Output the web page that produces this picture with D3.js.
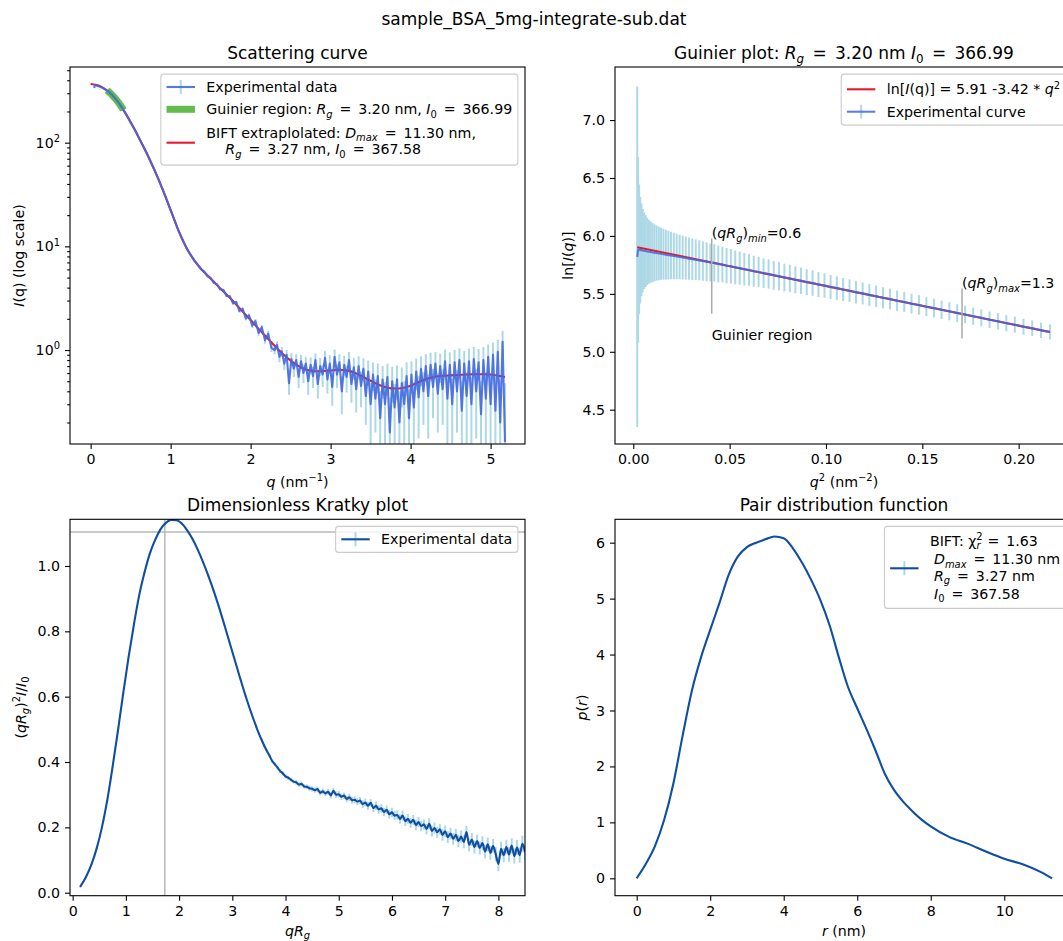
<!DOCTYPE html>
<html>
<head>
<meta charset="utf-8">
<script src="https://cdn.jsdelivr.net/npm/d3@7"></script>
<style>
body{margin:0;background:#fff;}
text{font-family:"DejaVu Sans",sans-serif;white-space:pre;}
</style>
</head>
<body>
<svg id="fig" width="1063" height="941"></svg>
<script>
// ---------- data ----------
var figTitle = "sample_BSA_5mg-integrate-sub.dat";

// low q points, shared by the scattering curve and the Guinier plot
var guinierQ = [0.045,0.050,0.055,0.060,0.065,0.070,0.075,0.080,0.085,0.090,
  0.095,0.100,0.105,0.110,0.115,0.120,0.125,0.130,0.135,0.140,
  0.145,0.150,0.155,0.160,0.165,0.170,0.175,0.180,0.185,0.190,
  0.195,0.200,0.205,0.210,0.215,0.220,0.225,0.230,0.235,0.240,
  0.245,0.250,0.255,0.260,0.265,0.270,0.275,0.280,0.285,0.290,
  0.295,0.300,0.305,0.310,0.315,0.320,0.325,0.330,0.335,0.340,
  0.345,0.350,0.355,0.360,0.365,0.370,0.375,0.380,0.385,0.390,
  0.395,0.400,0.405,0.410,0.415,0.420,0.425,0.430,0.435,0.440,
  0.445,0.450,0.455,0.460,0.465];
var guinierLnI = [5.820,5.880,5.884,5.876,5.879,5.873,5.872,5.869,5.866,5.863,
  5.861,5.857,5.855,5.852,5.848,5.846,5.842,5.838,5.834,5.831,
  5.826,5.822,5.818,5.813,5.809,5.804,5.799,5.794,5.789,5.783,
  5.777,5.771,5.767,5.758,5.753,5.743,5.738,5.728,5.722,5.712,
  5.706,5.695,5.689,5.678,5.671,5.660,5.652,5.641,5.633,5.621,
  5.613,5.601,5.593,5.580,5.572,5.559,5.550,5.537,5.527,5.514,
  5.504,5.490,5.480,5.466,5.455,5.441,5.430,5.415,5.404,5.389,
  5.377,5.362,5.350,5.334,5.322,5.306,5.293,5.277,5.264,5.247,
  5.234,5.216,5.203,5.185,5.171];
var guinierErr = [1.47,0.80,0.56,0.46,0.40,0.36,0.33,0.31,0.29,0.275,
  0.265,0.255,0.245,0.238,0.231,0.225,0.220,0.215,0.210,0.205,
  0.200,0.196,0.192,0.188,0.185,0.182,0.179,0.176,0.173,0.170,
  0.167,0.164,0.161,0.158,0.155,0.152,0.149,0.146,0.143,0.140,
  0.137,0.134,0.131,0.128,0.126,0.124,0.122,0.120,0.118,0.116,
  0.114,0.112,0.110,0.108,0.106,0.104,0.102,0.100,0.098,0.097,
  0.095,0.094,0.092,0.091,0.089,0.088,0.086,0.085,0.084,0.082,
  0.081,0.080,0.078,0.077,0.076,0.075,0.073,0.072,0.071,0.070,
  0.069,0.068,0.067,0.066,0.065];
var guinierFitQ2 = [0.00203, 0.21623];
var guinierFitLnI = [5.903, 5.170];
var guinierQmin = 0.2025, guinierQmax = 0.4135;
var guinierMarkQ2 = [0.0407, 0.1706];
var guinierMarkLo = [5.330, 5.115];
var guinierMarkHi = [5.978, 5.547];
var guinierMarkSub = ["min", "max"];
var guinierMarkVal = ["=0.6", "=1.3"];

// rest of the scattering curve
var scatterQ = [0.50,0.55,0.60,0.65,0.70,0.75,0.80,0.85,0.90,0.95,1.00,1.05,1.10,1.15,1.20,1.25,1.30,
  1.34,1.38,1.42,1.46,1.50,1.54,1.58,1.62,1.66,1.70,1.74,1.78,1.82,1.86,1.90,1.94,1.98,2.02,2.06,2.10,2.14,2.18,2.22,2.26,
  2.30,2.33,2.36,2.39,2.42,2.45,2.48,2.51,2.54,2.57,2.60,2.63,2.66,2.69,2.72,2.75,2.78,2.81,2.84,2.87,
  2.90,2.93,2.96,2.99,3.02,3.05,3.08,3.11,3.14,3.17,3.20,3.23,3.26,3.29,3.32,3.35,3.38,3.41,3.44,3.47,
  3.50,3.53,3.56,3.59,3.62,3.65,3.68,3.71,3.74,3.77,3.80,3.83,3.86,3.89,3.92,3.95,3.98,4.01,4.04,4.07,
  4.10,4.13,4.16,4.19,4.22,4.25,4.28,4.31,4.34,4.37,4.40,4.43,4.46,4.49,4.52,4.55,4.58,4.61,4.64,4.67,
  4.70,4.73,4.76,4.79,4.82,4.85,4.88,4.91,4.94,4.97,5.00,5.03,5.06,5.09,5.12,5.15,5.18];
var scatterI = [156,134,113,95,79.5,65.5,54,44,35.4,28.3,22.4,17.8,14.1,11.6,9.6,8.3,7.25,
  6.62,6.00,5.70,5.15,4.95,4.45,4.30,3.85,3.80,3.32,3.30,2.82,2.90,2.38,2.50,2.02,2.16,1.72,1.90,1.46,1.66,1.24,1.44,1.05,
  1.00,1.12,0.86,0.97,0.74,0.90,0.48,0.82,0.66,0.80,
  0.55,0.78,0.60,0.74,0.50,0.72,0.56,0.80,0.47,0.70,
  0.58,0.84,0.52,0.74,0.44,0.86,0.58,0.76,0.40,0.72,
  0.55,0.80,0.47,0.68,0.42,0.70,0.45,0.66,0.36,0.62,
  0.30,0.58,0.34,0.56,0.22,0.52,0.30,0.55,0.16,0.50,
  0.28,0.52,0.20,0.48,0.30,0.56,0.22,0.58,0.28,0.62,
  0.35,0.66,0.40,0.70,0.36,0.72,0.44,0.74,0.38,0.70,
  0.42,0.78,0.34,0.72,0.30,0.76,0.40,0.80,0.26,0.74,
  0.36,0.78,0.30,0.82,0.40,0.76,0.24,0.80,0.34,0.86,
  0.30,0.90,0.26,0.96,0.20,1.20,0.13];
var scatterErr = [1.2,1.0,0.9,0.8,0.7,0.6,0.5,0.45,0.4,0.35,0.3,0.28,0.25,0.22,0.2,0.18,0.16,
  0.08,0.08,0.08,0.08,0.08,0.08,0.08,0.09,0.09,0.09,0.09,0.09,0.09,0.09,0.09,0.09,0.09,0.09,0.09,0.09,0.09,0.09,0.09,0.09,
  0.09,0.09,0.10,0.10,0.10,0.10,0.11,0.11,0.11,0.11,
  0.12,0.12,0.12,0.12,0.13,0.13,0.13,0.13,0.13,0.14,
  0.14,0.14,0.14,0.15,0.15,0.15,0.15,0.15,0.16,0.16,
  0.16,0.16,0.16,0.16,0.17,0.17,0.17,0.17,0.17,0.17,
  0.18,0.18,0.18,0.18,0.18,0.18,0.19,0.19,0.19,0.19,
  0.19,0.19,0.20,0.20,0.20,0.20,0.20,0.20,0.21,0.21,
  0.21,0.21,0.21,0.21,0.22,0.22,0.22,0.22,0.22,0.22,
  0.23,0.23,0.23,0.23,0.23,0.24,0.24,0.24,0.24,0.24,
  0.25,0.25,0.25,0.25,0.26,0.26,0.26,0.27,0.27,0.27,
  0.28,0.28,0.29,0.30,0.31,0.33,0.35];

// BIFT extrapolated curve
var biftQ = [0.00,0.10,0.20,0.30,0.40,0.50,0.60,0.70,0.80,0.90,1.00,1.10,1.20,1.30,1.40,1.50,1.60,1.70,1.80,1.90,
  2.00,2.10,2.20,2.30,2.40,2.50,2.60,2.70,2.80,2.90,3.00,3.10,3.20,3.30,3.40,3.50,3.60,3.70,3.80,3.90,
  4.00,4.10,4.20,4.30,4.40,4.50,4.60,4.70,4.80,4.90,5.00,5.10,5.18];
var biftI = [367.6,355.5,320,272,212,158,113,79.5,54,35.4,22.4,14.1,9.6,7.25,5.85,4.9,4.08,3.43,2.86,2.35,
  1.95,1.6,1.33,1.1,0.92,0.79,0.70,0.645,0.625,0.625,0.635,0.645,0.637,0.605,0.555,0.505,0.462,0.436,0.425,0.43,
  0.452,0.49,0.527,0.553,0.565,0.57,0.575,0.58,0.585,0.585,0.58,0.565,0.55];

// dimensionless Kratky plot
var kratkyX = [0.14,0.25,0.35,0.45,0.55,0.65,0.75,0.85,0.95,1.05,1.15,1.25,1.35,1.45,1.55,1.65,1.75,
  1.85,1.95,2.05,2.15,2.25,2.35,2.45,2.55,2.65,2.75,2.85,2.95,3.05,3.15,3.25,3.35,3.45,
  3.50,3.55,3.60,3.65,3.70,3.75,3.80,3.85,3.90,3.95,
  4.00,4.05,4.10,4.15,4.20,4.25,4.30,4.35,4.40,4.45,
  4.50,4.55,4.60,4.65,4.70,4.75,4.80,4.85,4.90,4.95,
  5.00,5.05,5.10,5.15,5.20,5.25,5.30,5.35,5.40,5.45,
  5.50,5.55,5.60,5.65,5.70,5.75,5.80,5.85,5.90,5.95,
  6.00,6.05,6.10,6.15,6.20,6.25,6.30,6.35,6.40,6.45,
  6.50,6.55,6.60,6.65,6.70,6.75,6.80,6.85,6.90,6.95,
  7.00,7.05,7.10,7.15,7.20,7.25,7.30,7.35,7.40,7.45,
  7.50,7.55,7.60,7.65,7.70,7.75,7.80,7.85,7.90,7.95,
  8.00,8.05,8.10,8.15,8.20,8.25,8.30,8.35,8.40,8.45,8.50];
var kratkyY = [0.018,0.048,0.085,0.135,0.200,0.283,0.385,0.495,0.610,0.720,0.820,0.910,0.980,1.038,1.080,1.112,1.132,
  1.141,1.140,1.130,1.110,1.083,1.050,1.012,0.970,0.924,0.874,0.820,0.765,0.710,0.655,0.602,0.553,0.508,
  0.487,0.468,0.450,0.434,0.419,0.403,0.393,0.383,0.372,0.365,
  0.356,0.352,0.346,0.340,0.338,0.331,0.333,0.325,0.324,0.320,
  0.318,0.314,0.317,0.306,0.310,0.304,0.309,0.298,0.312,0.300,
  0.301,0.294,0.297,0.287,0.292,0.283,0.284,0.279,0.282,0.271,
  0.276,0.266,0.275,0.259,0.266,0.255,0.258,0.247,0.254,0.240,
  0.246,0.236,0.238,0.226,0.236,0.219,0.226,0.214,0.223,0.207,
  0.216,0.204,0.209,0.195,0.211,0.189,0.198,0.185,0.194,0.177,
  0.188,0.170,0.181,0.165,0.177,0.158,0.172,0.155,0.186,0.146,
  0.163,0.140,0.158,0.137,0.152,0.126,0.148,0.122,0.143,0.118,
  0.088,0.134,0.115,0.140,0.117,0.144,0.112,0.138,0.115,0.150,0.124];
var kratkyErr = [0.002,0.002,0.002,0.002,0.002,0.002,0.002,0.002,0.002,0.002,0.002,0.002,0.002,0.002,0.002,0.002,0.002,
  0.002,0.002,0.002,0.003,0.003,0.003,0.003,0.003,0.003,0.003,0.003,0.003,0.003,0.003,0.003,0.004,0.004,
  0.004,0.004,0.004,0.005,0.005,0.005,0.005,0.005,0.006,0.006,
  0.006,0.006,0.006,0.006,0.007,0.007,0.007,0.007,0.007,0.008,
  0.008,0.008,0.008,0.008,0.009,0.009,0.009,0.009,0.009,0.010,
  0.010,0.010,0.010,0.010,0.011,0.011,0.011,0.011,0.011,0.012,
  0.012,0.012,0.012,0.012,0.013,0.013,0.013,0.013,0.013,0.014,
  0.014,0.014,0.014,0.014,0.015,0.015,0.015,0.015,0.015,0.016,
  0.016,0.016,0.016,0.016,0.017,0.017,0.017,0.017,0.017,0.018,
  0.018,0.018,0.018,0.018,0.019,0.019,0.019,0.019,0.019,0.020,
  0.020,0.020,0.020,0.020,0.021,0.021,0.021,0.021,0.021,0.022,
  0.022,0.022,0.022,0.022,0.023,0.023,0.023,0.023,0.023,0.024,0.024];
var kratkyRefX = 1.732, kratkyRefY = 1.104;

// pair distribution function
var prR = [0,0.25,0.5,0.75,1,1.25,1.5,1.75,2,2.25,2.5,2.75,3,3.25,3.5,3.75,4,4.25,4.5,4.75,
  5,5.25,5.5,5.75,6,6.25,6.5,6.75,7,7.25,7.5,7.75,8,8.5,9,9.5,10,10.5,11,11.3];
var prP = [0,0.26,0.58,1.05,1.7,2.55,3.35,3.95,4.44,4.92,5.42,5.75,5.92,6.0,6.06,6.11,6.08,5.9,5.64,5.33,
  4.97,4.52,3.95,3.42,3.04,2.67,2.28,1.87,1.58,1.37,1.2,1.05,0.93,0.74,0.62,0.48,0.35,0.25,0.11,0];

// ticks
var scatterXTicks = [0,1,2,3,4,5];
var scatterYTicks = [1,10,100];
var guinierXTicks = [0,0.05,0.10,0.15,0.20];
var guinierYTicks = [4.5,5.0,5.5,6.0,6.5,7.0];
var kratkyXTicks = [0,1,2,3,4,5,6,7,8];
var kratkyYTicks = [0,0.2,0.4,0.6,0.8,1.0];
var prXTicks = [0,2,4,6,8,10];
var prYTicks = [0,1,2,3,4,5,6];

// ---------- drawing ----------
var FS = 14.2, TFS = 17;
var cData = "#4169e1", cErr = "#add8e6", cFit = "#e8192c", cGreen = "#62bb4a", cDark = "#0f4ea1";
var svg = d3.select("#fig");

// parts: plain strings or {t, it, sub, sup, dx, eq}; eq puts a mathtext-like " = " before t
function rich(t, parts, fs){
	var shift = 0;
	parts.forEach(function(p){
		if(typeof p === "string"){ p = {t:p}; }
		var want = p.sub ? fs*0.24 : (p.sup ? -fs*0.4 : 0);
		if(p.eq){
			var e = t.append("tspan").text(" =").attr("dx", fs*0.17);
			if(shift !== 0){ e.attr("dy", (-shift).toFixed(2)); shift = 0; }
		}
		var s = t.append("tspan").text((p.eq ? " " : "") + p.t);
		if(want !== shift){ s.attr("dy", (want-shift).toFixed(2)); }
		shift = want;
		if(p.sub || p.sup){ s.attr("font-size", (fs*0.7).toFixed(2)); }
		if(p.it){ s.attr("font-style", "italic"); }
		if(p.dx || p.eq){ s.attr("dx", p.eq ? fs*0.17 : p.dx); }
	});
	return t;
}
function txt(g, x, y, parts, fs, anchor){
	var t = g.append("text").attr("x", x).attr("y", y).attr("font-size", fs)
		.attr("text-anchor", anchor || "start").attr("fill", "#000").attr("xml:space", "preserve");
	if(typeof parts === "string"){ parts = [parts]; }
	return rich(t, parts, fs);
}
function ylabel(x, y, parts){
	txt(svg, 0, 0, parts, FS, "middle").attr("transform", "translate(" + x + "," + y + ") rotate(-90)");
}
function tidy(g){
	g.select(".domain").remove();
	g.attr("font-size", FS).attr("font-family", null);
	g.selectAll(".tick line").attr("stroke", "#000").attr("stroke-width", 1.1);
	g.selectAll(".tick text").attr("fill", "#000");
	return g;
}
function xAxis(x, b, ticks, fmt){
	return tidy(svg.append("g").attr("transform", "translate(0," + b.b + ")")
		.call(d3.axisBottom(x).tickValues(ticks).tickSize(5).tickPadding(5).tickFormat(fmt)));
}
function yAxis(y, b, ticks, fmt, size){
	return tidy(svg.append("g").attr("transform", "translate(" + b.l + ",0)")
		.call(d3.axisLeft(y).tickValues(ticks).tickSize(size || 5).tickPadding(5).tickFormat(fmt)));
}
function frame(b){
	svg.append("rect").attr("x", b.l).attr("y", b.t).attr("width", b.r-b.l).attr("height", b.b-b.t)
		.attr("fill", "none").attr("stroke", "#000").attr("stroke-width", 1.1);
}
function clipGroup(id, b){
	svg.append("clipPath").attr("id", id).append("rect")
		.attr("x", b.l).attr("y", b.t).attr("width", b.r-b.l).attr("height", b.b-b.t);
	return svg.append("g").attr("clip-path", "url(#" + id + ")");
}
function errBars(g, xs, ys, es, x, y, lo, w){
	g.append("g").selectAll("line").data(d3.range(xs.length)).enter().append("line")
		.attr("x1", function(i){ return x(xs[i]); })
		.attr("x2", function(i){ return x(xs[i]); })
		.attr("y1", function(i){ return y(Math.max(ys[i]-es[i], lo)); })
		.attr("y2", function(i){ return y(ys[i]+es[i]); })
		.attr("stroke", cErr).attr("stroke-width", w || 2);
}
function linePath(g, xs, ys, x, y, curve){
	var ln = d3.line().x(function(i){ return x(xs[i]); }).y(function(i){ return y(ys[i]); });
	if(curve){ ln.curve(curve); }
	return g.append("path").datum(d3.range(xs.length)).attr("d", ln).attr("fill", "none")
		.attr("stroke-linejoin", "round");
}
function hErr(color, op){
	return function(g, x0, x1, cy){
		g.append("line").attr("x1", (x0+x1)/2).attr("x2", (x0+x1)/2).attr("y1", cy-7).attr("y2", cy+7)
			.attr("stroke", cErr).attr("stroke-width", 2);
		g.append("line").attr("x1", x0).attr("x2", x1).attr("y1", cy).attr("y2", cy)
			.attr("stroke", color).attr("stroke-opacity", op).attr("stroke-width", 2.1);
	};
}
function hLine(color, w){
	return function(g, x0, x1, cy){
		g.append("line").attr("x1", x0).attr("x2", x1).attr("y1", cy).attr("y2", cy)
			.attr("stroke", color).attr("stroke-width", w);
	};
}
function legend(b, top, h, rows){
	var lg = svg.append("g");
	var bg = lg.append("rect");
	var tg = lg.append("g");
	var w = 0;
	rows.forEach(function(r){
		r.lines.forEach(function(ln){
			var t = txt(tg, ln.dx || 0, top + ln.y, ln.parts, FS, "start");
			w = Math.max(w, (ln.dx || 0) + t.node().getBBox().width);
		});
	});
	var bw = 45.5 + w + 5.7;
	var left = b.r - 7.1 - bw;
	tg.attr("transform", "translate(" + (left+45.5) + ",0)");
	bg.attr("x", left).attr("y", top).attr("width", bw).attr("height", h).attr("rx", 3)
		.attr("fill", "#fff").attr("fill-opacity", 0.8).attr("stroke", "#cccccc").attr("stroke-width", 1.1);
	rows.forEach(function(r){ r.handle(lg, left+5.7, left+34.1, top+r.cy); });
}

// figure title
txt(svg, 534, 25, figTitle, TFS, "middle");

// ---- panel 1 : scattering curve ----
var b1 = {l:70, r:525, t:67, b:444};
var x1 = d3.scaleLinear().domain([-0.258, 5.43]).range([b1.l, b1.r]);
var y1 = d3.scaleLog().domain([0.1241, 537]).range([b1.b, b1.t]);
var g1 = clipGroup("c1", b1);
var expQ = guinierQ.concat(scatterQ);
var expI = guinierLnI.map(function(v){ return Math.exp(v); }).concat(scatterI);
errBars(g1, scatterQ, scatterI, scatterErr, x1, y1, 0.05);
linePath(g1, biftQ, biftI, x1, y1, d3.curveMonotoneX).attr("stroke", cFit).attr("stroke-width", 2.1);
var gIdx = d3.range(guinierQ.length).filter(function(i){ return guinierQ[i] >= guinierQmin && guinierQ[i] <= guinierQmax; });
linePath(g1, gIdx.map(function(i){ return guinierQ[i]; }), gIdx.map(function(i){ return expI[i]; }), x1, y1)
	.attr("stroke", cGreen).attr("stroke-width", 7);
linePath(g1, expQ, expI, x1, y1).attr("stroke", cData).attr("stroke-opacity", 0.9).attr("stroke-width", 2.1);
frame(b1);
xAxis(x1, b1, scatterXTicks, d3.format("d"));
var yMinor = y1.ticks().filter(function(v){ return scatterYTicks.indexOf(v) < 0; });
yAxis(y1, b1, yMinor, function(){ return ""; }, 2.8);
yAxis(y1, b1, scatterYTicks, function(){ return ""; }).selectAll(".tick text").each(function(d){
	rich(d3.select(this), ["10", {t: String(Math.round(Math.log10(d))), sup: true}], FS);
});
txt(svg, (b1.l+b1.r)/2, 59, "Scattering curve", TFS, "middle");
txt(svg, (b1.l+b1.r)/2, 487, [{t:"q", it:true}, " (nm", {t:"\u22121", sup:true}, ")"], FS, "middle");
ylabel(24, (b1.t+b1.b)/2, [{t:"I", it:true}, "(q) (log scale)"]);
legend(b1, b1.t+7.1, 91, [
	{cy:12.9, handle:hErr(cData, 0.9), lines:[{y:17.9, parts:["Experimental data"]}]},
	{cy:35.2, handle:hLine(cGreen, 7), lines:[{y:40.2, parts:["Guinier region: ", {t:"R", it:true}, {t:"g", it:true, sub:true},
		{t:"3.20 nm, ", eq:true}, {t:"I", it:true}, {t:"0", sub:true}, {t:"366.99", eq:true}]}]},
	{cy:68.6, handle:hLine(cFit, 2.1), lines:[
		{y:63.6, parts:["BIFT extraplolated: ", {t:"D", it:true}, {t:"max", it:true, sub:true}, {t:"11.30 nm,", eq:true}]},
		{y:80.2, dx:19, parts:[{t:"R", it:true}, {t:"g", it:true, sub:true}, {t:"3.27 nm, ", eq:true},
			{t:"I", it:true}, {t:"0", sub:true}, {t:"367.58", eq:true}]}]}
]);

// ---- panel 2 : Guinier plot ----
var b2 = {l:615, r:1073, t:67, b:444};
var x2 = d3.scaleLinear().domain([-0.0095, 0.2282]).range([b2.l, b2.r]);
var y2 = d3.scaleLinear().domain([4.204, 7.458]).range([b2.b, b2.t]);
var g2 = clipGroup("c2", b2);
var q2 = guinierQ.map(function(q){ return q*q; });
errBars(g2, q2, guinierLnI, guinierErr, x2, y2, 0);
linePath(g2, guinierFitQ2, guinierFitLnI, x2, y2).attr("stroke", cFit).attr("stroke-width", 2.1);
linePath(g2, q2, guinierLnI, x2, y2).attr("stroke", cData).attr("stroke-opacity", 0.85).attr("stroke-width", 2.1);
guinierMarkQ2.forEach(function(m, i){
	g2.append("line").attr("x1", x2(m)).attr("x2", x2(m)).attr("y1", y2(guinierMarkLo[i])).attr("y2", y2(guinierMarkHi[i]))
		.attr("stroke", "#a9a9a9").attr("stroke-width", 1.5);
	txt(svg, x2(m), y2(guinierMarkHi[i]), ["(", {t:"qR", it:true}, {t:"g", it:true, sub:true}, ")",
		{t:guinierMarkSub[i], it:true, sub:true}, guinierMarkVal[i]], FS, "start");
});
txt(svg, x2(guinierMarkQ2[0]), y2(5.105), "Guinier region", FS, "start");
frame(b2);
xAxis(x2, b2, guinierXTicks, d3.format(".2f"));
yAxis(y2, b2, guinierYTicks, d3.format(".1f"));
txt(svg, 844, 59, ["Guinier plot: ", {t:"R", it:true}, {t:"g", it:true, sub:true}, {t:"3.20 nm ", eq:true},
	{t:"I", it:true}, {t:"0", sub:true}, {t:"366.99", eq:true}], TFS, "middle");
txt(svg, 844, 487, [{t:"q", it:true}, {t:"2", sup:true}, " (nm", {t:"\u22122", sup:true}, ")"], FS, "middle");
ylabel(573, (b2.t+b2.b)/2, ["ln[", {t:"I", it:true}, "(", {t:"q", it:true}, ")]"]);
legend(b2, b2.t+7.1, 51, [
	{cy:15.2, handle:hLine(cFit, 2.1), lines:[{y:20.2, parts:["ln[", {t:"I", it:true}, "(q)] = 5.91 -3.42 * ",
		{t:"q", it:true}, {t:"2", sup:true}]}]},
	{cy:37.6, handle:hErr(cData, 0.85), lines:[{y:42.6, parts:["Experimental curve"]}]}
]);

// ---- panel 3 : dimensionless Kratky plot ----
var b3 = {l:70, r:525, t:519.3, b:895.7};
var x3 = d3.scaleLinear().domain([-0.05, 8.5]).range([b3.l, b3.r]);
var y3 = d3.scaleLinear().domain([-0.0092, 1.1429]).range([b3.b, b3.t]);
var g3 = clipGroup("c3", b3);
g3.append("line").attr("x1", x3(kratkyRefX)).attr("x2", x3(kratkyRefX)).attr("y1", b3.t).attr("y2", b3.b)
	.attr("stroke", "#b8b8b8").attr("stroke-width", 1.5);
g3.append("line").attr("x1", b3.l).attr("x2", b3.r).attr("y1", y3(kratkyRefY)).attr("y2", y3(kratkyRefY))
	.attr("stroke", "#b8b8b8").attr("stroke-width", 1.5);
errBars(g3, kratkyX, kratkyY, kratkyErr, x3, y3, -1, 2);
linePath(g3, kratkyX, kratkyY, x3, y3, d3.curveMonotoneX).attr("stroke", cDark).attr("stroke-width", 2.1);
frame(b3);
xAxis(x3, b3, kratkyXTicks, d3.format("d"));
yAxis(y3, b3, kratkyYTicks, d3.format(".1f"));
txt(svg, (b3.l+b3.r)/2, 511, "Dimensionless Kratky plot", TFS, "middle");
txt(svg, (b3.l+b3.r)/2, 936, [{t:"qR", it:true}, {t:"g", it:true, sub:true}], FS, "middle");
ylabel(26, (b3.t+b3.b)/2, ["(", {t:"qR", it:true}, {t:"g", it:true, sub:true}, ")", {t:"2", sup:true},
	{t:"I", it:true}, "/", {t:"I", it:true}, {t:"0", sub:true}]);
legend(b3, b3.t+7.1, 26, [
	{cy:12.9, handle:hErr(cDark, 1), lines:[{y:17.9, parts:["Experimental data"]}]}
]);

// ---- panel 4 : pair distribution function ----
var b4 = {l:615, r:1073, t:519.3, b:895.7};
var x4 = d3.scaleLinear().domain([-0.59, 11.87]).range([b4.l, b4.r]);
var y4 = d3.scaleLinear().domain([-0.311, 6.418]).range([b4.b, b4.t]);
var g4 = clipGroup("c4", b4);
linePath(g4, prR, prP, x4, y4, d3.curveMonotoneX).attr("stroke", cDark).attr("stroke-width", 2.1);
frame(b4);
xAxis(x4, b4, prXTicks, d3.format("d"));
yAxis(y4, b4, prYTicks, d3.format("d"));
txt(svg, 844, 511, "Pair distribution function", TFS, "middle");
txt(svg, 844, 936, [{t:"r", it:true}, " (nm)"], FS, "middle");
ylabel(587, (b4.t+b4.b)/2, [{t:"p", it:true}, "(", {t:"r", it:true}, ")"]);
legend(b4, b4.t+7.1, 82, [
	{cy:41.9, handle:hErr(cDark, 1), lines:[
		{y:19.6, parts:["BIFT: \u03c7", {t:"2", sup:true}, {t:"r", it:true, sub:true, dx:-6.3}, {t:"1.63", eq:true}]},
		{y:37.9, dx:4, parts:[{t:"D", it:true}, {t:"max", it:true, sub:true}, {t:"11.30 nm", eq:true}]},
		{y:54.6, dx:4, parts:[{t:"R", it:true}, {t:"g", it:true, sub:true}, {t:"3.27 nm", eq:true}]},
		{y:72.6, dx:4, parts:[{t:"I", it:true}, {t:"0", sub:true}, {t:"367.58", eq:true}]}]}
]);
</script>
</body>
</html>
